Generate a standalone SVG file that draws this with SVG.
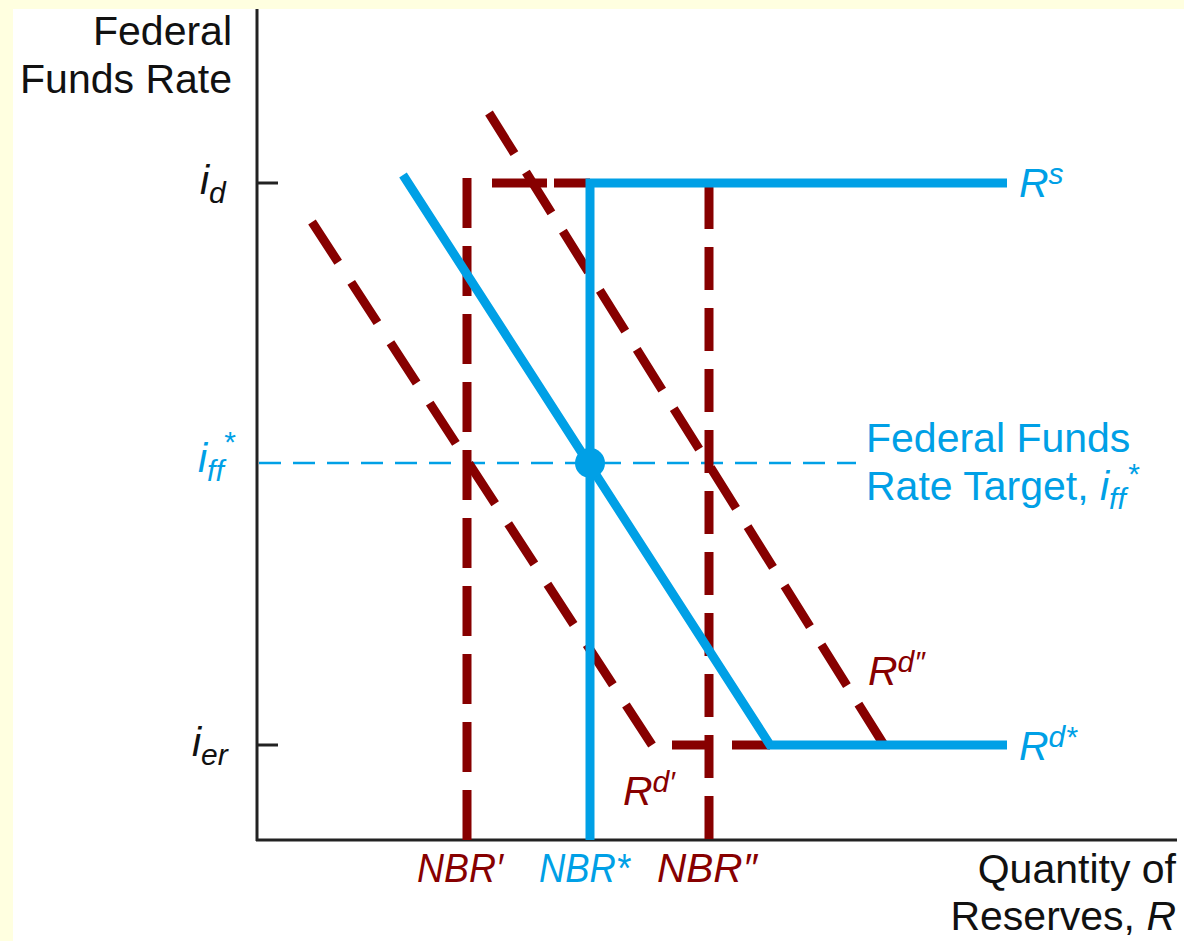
<svg xmlns="http://www.w3.org/2000/svg" width="1184" height="941" viewBox="0 0 1184 941">
<style>
.axis{stroke:#222;stroke-width:3;fill:none}
.blue{stroke:#00A0E6;stroke-width:9;fill:none}
.red{stroke:#870000;stroke-width:9;fill:none}
.t{font-family:"Liberation Sans",Arial,sans-serif;font-size:41px;fill:#111}
.it{font-style:italic}
.tb{fill:#00A0E6}
.tr{fill:#870000}
.sub{font-size:30px}
</style>
<rect x="0" y="0" width="1184" height="941" fill="#FFFFE0"/>
<rect x="13" y="9" width="1171" height="932" fill="#FFFFFF"/>
<g id="axes">
<line class="axis" x1="257" y1="9" x2="257" y2="841"/>
<line class="axis" x1="256" y1="840" x2="1177" y2="840"/>
<line class="axis" x1="257" y1="183" x2="278" y2="183"/>
<line class="axis" x1="257" y1="745" x2="278" y2="745"/>
</g>
<g id="connectors">
<line id="target-line" x1="259" y1="463" x2="856" y2="463" stroke="#00A0E6" stroke-width="2.5" stroke-dasharray="22 12"/>
<line id="Rdpp" class="red" x1="489" y1="113" x2="884" y2="745" stroke-dasharray="48 21.7"/>
<line id="Rdp" class="red" x1="312" y1="222" x2="652" y2="745" stroke-dasharray="48 24"/>
<line id="Rdp-flat" class="red" x1="672" y1="745" x2="770" y2="745" stroke-dasharray="41 19"/>
<line id="NBRp" class="red" x1="467" y1="178" x2="467" y2="840" stroke-dasharray="50 18"/>
<line id="NBRp-top1" class="red" x1="492" y1="183" x2="547" y2="183"/>
<line id="NBRp-top2" class="red" x1="554" y1="183" x2="590" y2="183"/>
<line id="NBRpp" class="red" x1="709" y1="186" x2="709" y2="840" stroke-dasharray="43 18"/>
<polyline id="Rs" class="blue" points="590,840 590,183 1007,183"/>
<polyline id="Rdstar" class="blue" points="403,175 770,745 1007,745"/>
<circle id="eq" cx="590" cy="463" r="15" fill="#00A0E6"/>
</g>
<g id="labels">
<text class="t" x="232" y="45" text-anchor="end">Federal</text>
<text class="t" x="232" y="93" text-anchor="end">Funds Rate</text>
<text class="t it" x="200" y="194">i<tspan class="sub" dy="9">d</tspan></text>
<text class="t it tb" x="198" y="472">i<tspan class="sub" dy="9">ff</tspan></text>
<text class="t it tb sub" x="223" y="452">*</text>
<text class="t it" x="192" y="756">i<tspan class="sub" dy="9">er</tspan></text>
<text class="t it tb" x="1019" y="197">R<tspan class="sub" dy="-13">s</tspan></text>
<text class="t it tb" x="1019" y="760">R<tspan class="sub" dy="-13">d*</tspan></text>
<text class="t it tr" x="868" y="685">R<tspan class="sub" dy="-13">d″</tspan></text>
<text class="t it tr" x="623" y="805">R<tspan class="sub" dy="-13">d′</tspan></text>
<text class="t tb" x="866" y="452">Federal Funds</text>
<text class="t tb" x="866" y="500">Rate Target, <tspan class="it">i<tspan class="sub" dy="9">ff</tspan></tspan></text>
<text class="t it tb sub" x="1127" y="484">*</text>
<text class="t it tr" x="417" y="882" textLength="86" lengthAdjust="spacingAndGlyphs">NBR′</text>
<text class="t it tb" x="539" y="882" textLength="91" lengthAdjust="spacingAndGlyphs">NBR*</text>
<text class="t it tr" x="657" y="882" textLength="100" lengthAdjust="spacingAndGlyphs">NBR″</text>
<text class="t" x="1176" y="883" text-anchor="end">Quantity of</text>
<text class="t" x="1176" y="930" text-anchor="end">Reserves, <tspan class="it">R</tspan></text>
</g>
</svg>
